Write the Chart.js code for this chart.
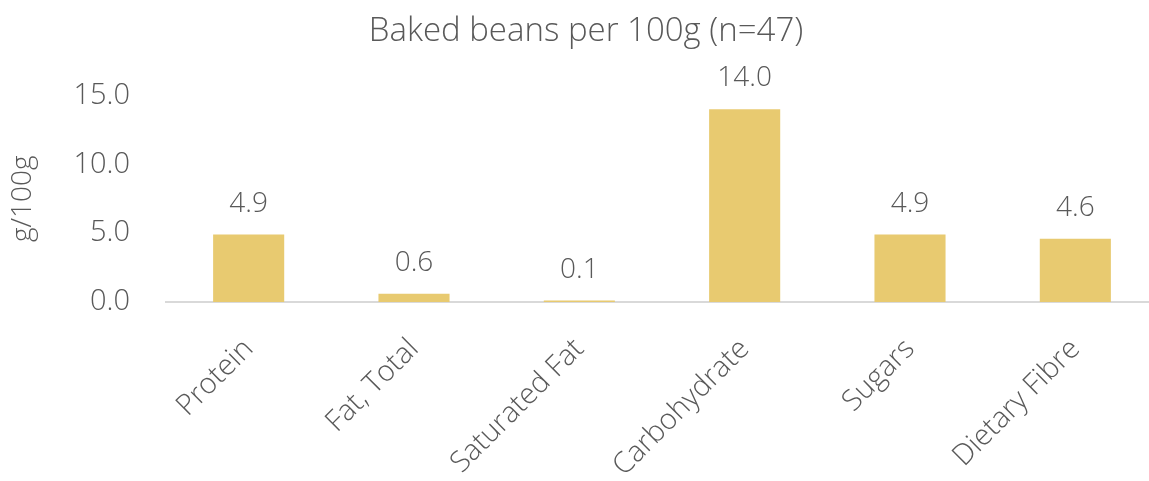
<!DOCTYPE html>
<html>
<head>
<meta charset="utf-8">
<script src="https://cdn.jsdelivr.net/npm/chart.js@4.4.1/dist/chart.umd.min.js"></script>
<style>
  html, body { margin: 0; padding: 0; background: #fff; overflow: hidden; }
  #wrap { width: 1158px; height: 540px; }
</style>
</head>
<body>
<div id="wrap"><canvas id="grafico"></canvas></div>
<script>
// datos
const categorias = ['Protein', 'Fat, Total', 'Saturated Fat', 'Carbohydrate', 'Sugars', 'Dietary Fibre'];
const valores = [4.9, 0.6, 0.1, 14.0, 4.9, 4.6];
const ticksY = [0, 5, 10, 15];

const texto = '#595959';
const fuente = '"Open Sans"';

// etiquetas encima de cada barra
const etiquetas = {
  id: 'etiquetas',
  afterDatasetsDraw(chart) {
    const ctx = chart.ctx;
    const meta = chart.getDatasetMeta(0);
    ctx.save();
    ctx.fillStyle = texto;
    ctx.font = '300 28px ' + fuente;
    ctx.textAlign = 'center';
    ctx.textBaseline = 'middle';
    meta.data.forEach((bar, i) => {
      ctx.fillText(valores[i].toFixed(1), bar.x, bar.y - 31);
    });
    ctx.restore();
  }
};

new Chart(document.getElementById('grafico'), {
  type: 'bar',
  data: {
    labels: categorias,
    datasets: [{
      data: valores,
      backgroundColor: '#E8CA70',
      barPercentage: 0.43,
      categoryPercentage: 1
    }]
  },
  options: {
    responsive: true,
    maintainAspectRatio: false,
    animation: false,
    layout: { padding: { left: 14, right: 0, top: 0, bottom: 0 } },
    plugins: {
      legend: { display: false },
      tooltip: { enabled: false },
      title: {
        display: true,
        text: 'Baked beans per 100g (n=47)',
        color: texto,
        font: { family: fuente, size: 33, weight: '300' },
        padding: { top: 12, bottom: 44 }
      }
    },
    scales: {
      x: {
        grid: { display: false },
        border: { display: true, color: '#D9D9D9', width: 2 },
        ticks: {
          color: texto,
          font: { family: fuente, size: 29, weight: '300' },
          maxRotation: 45,
          minRotation: 45,
          padding: 22
        },
        afterFit(scale) {
          scale.height = 238;
          scale.paddingLeft = 0;
          scale.paddingRight = 0;
        }
      },
      y: {
        min: 0,
        max: 15,
        grid: { display: false, drawTicks: false },
        border: { display: false },
        afterBuildTicks(scale) { scale.ticks = ticksY.map(v => ({ value: v })); },
        ticks: {
          color: texto,
          font: { family: fuente, size: 29, weight: '300' },
          padding: 36,
          callback: v => Number(v).toFixed(1)
        },
        title: {
          display: true,
          text: 'g/100g',
          color: texto,
          font: { family: fuente, size: 28, weight: '300' },
          padding: { top: -8, bottom: 0 }
        },
        afterFit(scale) { scale.width = 152; }
      }
    }
  },
  plugins: [etiquetas]
});
</script>
</body>
</html>
